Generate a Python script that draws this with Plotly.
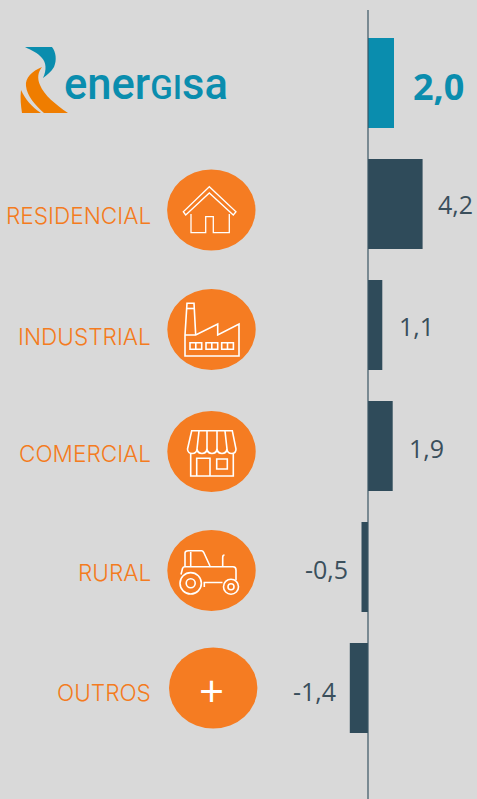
import plotly.graph_objects as go

W, H = 477, 799
categories = ["ENERGISA", "RESIDENCIAL", "INDUSTRIAL", "COMERCIAL", "RURAL", "OUTROS"]
values = [2.0, 4.2, 1.1, 1.9, -0.5, -1.4]
value_labels = ["2,0", "4,2", "1,1", "1,9", "-0,5", "-1,4"]

ORANGE = "#F47B20"
TEAL = "#0A8DAE"
DARK = "#2F4B5A"
BG = "#D9D9D9"
FONT = "Open Sans"

bar_colors = [TEAL] + [DARK] * 5

fig = go.Figure(go.Bar(
    y=categories, x=values, orientation="h", width=0.744,
    marker=dict(color=bar_colors, line=dict(width=0)), hoverinfo="skip",
))


def px(path):
    """Convert an icon path written in screen pixels to paper coordinates."""
    out, is_x = [], True
    for tok in path.split():
        if tok.isalpha():
            out.append(tok)
        else:
            v = float(tok)
            out.append(f"{v / W:.5f}" if is_x else f"{1 - v / H:.5f}")
            is_x = not is_x
    return " ".join(out)


shapes = []


def add_path(path, fill=None, line=None, width=1.6):
    shapes.append(dict(
        type="path", xref="paper", yref="paper", path=px(path),
        fillcolor=fill or "rgba(0,0,0,0)",
        line=dict(color=line or "rgba(0,0,0,0)", width=width if line else 0),
        layer="above",
    ))


def add_ellipse(cx, cy, rx, ry, fill=None, line=None, width=1.6):
    shapes.append(dict(
        type="circle", xref="paper", yref="paper",
        x0=(cx - rx) / W, x1=(cx + rx) / W, y0=1 - (cy + ry) / H, y1=1 - (cy - ry) / H,
        fillcolor=fill or "rgba(0,0,0,0)",
        line=dict(color=line or "rgba(0,0,0,0)", width=width if line else 0),
        layer="above",
    ))


# zero line
shapes.append(dict(type="line", xref="x", yref="paper", x0=0, x1=0, y0=0, y1=1 - 10 / H,
                   line=dict(color="#3A5563", width=1.2), layer="above"))

# logo
add_path("M 25 47 L 52 47 C 56 52 57 60 54 67 C 51 72 47 75 43 78 C 47 70 46 62 42 58 C 38 53 31 50 25 47 Z", fill=TEAL)
add_path("M 42 67 C 32 71 25 78 26 86 C 27 96 35 105 44 113 L 68 113 C 55 104 44 95 40 85 C 37 78 38 72 42 67 Z", fill="#EF7D00")
add_path("M 21 90 C 20 98 21 106 22 113 L 41 113 C 32 107 25 99 21 90 Z", fill="#EF7D00")

# icon discs
for cx, cy in [(211.3, 210), (211.5, 329.5), (211.5, 451.5), (211.5, 570.5), (213.2, 688)]:
    add_ellipse(cx, cy, 44.2, 40.6, fill="#F57C22")

WH = "#FFFFFF"
# house
add_path("M 209.3 186.7 L 183.3 211.7 L 185.7 215 L 209.3 193 L 233.3 215 L 236 211.7 Z", line=WH, width=1.3)
add_path("M 191 214 L 191 232.7 L 205.7 232.7 L 205.7 216.7 L 213.3 216.7 L 213.3 232.7 L 229.3 232.7 L 229.3 214", line=WH, width=1.3)

# factory
add_path("M 185 335 L 185 356 L 239 356 L 239 324 L 217.7 335 L 217.7 324 L 195.7 335 L 185 335", line=WH)
add_path("M 185 335 L 187 303.3 L 194 303.3 L 195.7 335", line=WH)
add_path("M 187 308.5 L 194 308.5", line=WH)
for x0 in (190, 206, 221.7):
    x1 = x0 + 11.7
    add_path(f"M {x0} 342.7 L {x1} 342.7 L {x1} 349.3 L {x0} 349.3 Z M {x0 + 5.8} 342.7 L {x0 + 5.8} 349.3", line=WH)

# store
add_path("M 191.7 430.7 L 232.3 430.7 L 236 449 C 236 455 227.5 455 227 449 "
         "C 226 455 218 455 217 449 C 216 455 208 455 207 449 C 206 455 198 455 197 449 "
         "C 196.5 455 187.5 455 187.5 449 Z", line=WH)
add_path("M 199 431 L 197 449 M 207 431 L 207 449 M 217 431 L 217 449 M 225 431 L 227 449", line=WH)
add_path("M 190.7 453 L 190.7 476 L 233.3 476 L 233.3 453", line=WH)
add_path("M 196.7 476 L 196.7 458.3 L 210 458.3 L 210 476", line=WH)
add_path("M 216.7 459 L 227.3 459 L 227.3 469 L 216.7 469 Z", line=WH)

# tractor
add_ellipse(190.7, 583.3, 10.7, 10.7, line=WH)
add_ellipse(190.7, 583.3, 4.5, 4.5, line=WH)
add_ellipse(231, 586.7, 7.5, 7.5, line=WH)
add_ellipse(231, 586.7, 3, 3, line=WH)
add_path("M 185 566.7 L 185 553 C 185 551 187 550.7 188.3 550.7 L 201.7 550.7 C 203 550.7 203.5 552 204 553 L 210 566", line=WH)
add_path("M 190.7 552 L 190.7 566", line=WH)
add_path("M 181 574.5 L 182.5 568.5 C 183 567 184 566.7 185 566.7 L 233 566.7 C 235 566.7 236 568 236 570 L 236 580", line=WH)
add_path("M 222.7 566 L 222.7 557.5 C 222.7 556 223.5 555 224.5 555", line=WH)
add_path("M 204.3 587 L 204.3 582.5 L 222.5 582.5", line=WH)

annotations = []

# logo word: small-cap G and I sit on the same baseline
annotations.append(dict(
    xref="paper", yref="paper", x=62 / W, y=1 - 84 / H, xanchor="left", yanchor="middle",
    text='ener<span style="font-size:33px">GI</span>sa', showarrow=False,
    font=dict(family="Roboto", size=43.5, color=TEAL, weight=500),
))

# value labels
xshifts = [17, 13, 15, 14, -12, -12]
yshifts = [-3, 0, -1, -2, -2, -3]
for i, (cat, v, lab) in enumerate(zip(categories, values, value_labels)):
    annotations.append(dict(
        xref="x", yref="y", x=v, y=cat, text=lab, showarrow=False,
        xanchor="left" if v >= 0 else "right", yanchor="middle",
        xshift=xshifts[i], yshift=yshifts[i],
        font=dict(family=FONT, size=36 if i == 0 else 25,
                  color=TEAL if i == 0 else "#3A4F5C", weight=700 if i == 0 else 400),
    ))

# category labels
cat_yshift = [None, -11, -11, -7, -5, -4]
for cat, ys in zip(categories[1:], cat_yshift[1:]):
    annotations.append(dict(
        xref="paper", yref="y", x=153 / W, y=cat, text=cat, showarrow=False,
        xanchor="right", yanchor="middle", yshift=ys,
        font=dict(family="Inter", size=22.6, color=ORANGE, weight=300),
    ))

annotations.append(dict(
    xref="paper", yref="paper", x=211.3 / W, y=1 - 690 / H, text="+", showarrow=False,
    xanchor="center", yanchor="middle",
    font=dict(family=FONT, size=44, color=WH, weight=500),
))

fig.update_layout(
    width=W, height=H, autosize=False,
    margin=dict(l=0, r=0, t=0, b=0, pad=0),
    paper_bgcolor=BG, plot_bgcolor=BG,
    showlegend=False,
    xaxis=dict(range=[-368 / 13, (W - 368) / 13], visible=False, fixedrange=True),
    yaxis=dict(type="category", categoryorder="array", categoryarray=categories,
               range=[(H - 83) / 121, -83 / 121], visible=False, fixedrange=True),
    shapes=shapes, annotations=annotations,
)

fig.write_html("out.html", config=dict(displayModeBar=False),
               post_script="document.body.style.margin='0';document.documentElement.style.overflow='hidden';")
